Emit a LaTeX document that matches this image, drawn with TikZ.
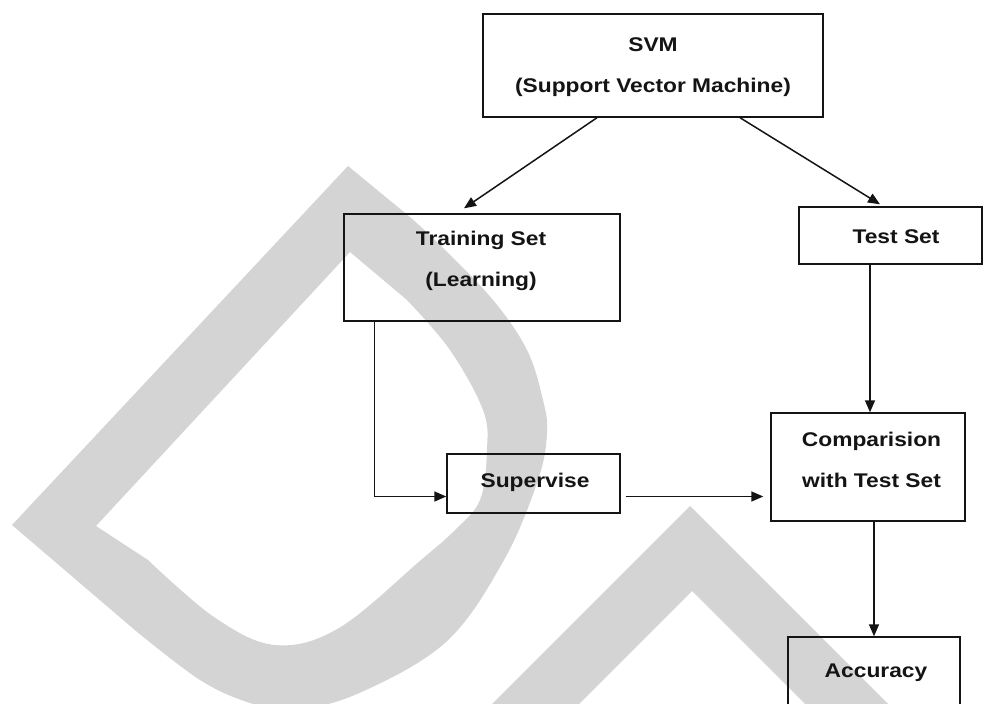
\documentclass[tikz,border=0pt]{standalone}
\usepackage{fontspec}
\setmainfont{Liberation Sans}[FakeStretch=1.15]
\usetikzlibrary{arrows.meta,calc}

\definecolor{wmgray}{RGB}{212,212,212}
\definecolor{ink}{RGB}{20,20,20}

\tikzset{
  box/.style={draw=ink, line width=1.4pt, rectangle, inner sep=0pt},
  lbl/.style={text=ink, align=center,
    font=\fontsize{19.8}{41}\selectfont\bfseries},
  arr/.style={draw=ink, line width=1.5pt,
    -{Triangle[length=12pt,width=10pt]}},
}

\begin{document}
\begin{tikzpicture}[x=1pt,y=-1pt]
\useasboundingbox (0,0) rectangle (983,704);

% light grey background lettering
\fill[wmgray, even odd rule]
  (348,166) -- (12,525) -- (136,631)
  -- plot[smooth, tension=0.6] coordinates {(136,631) (200,680) (250,703) (292,710)
      (357,694) (446,642) (504,560) (538,480) (547,433) (543,400) (527,350)
      (493,300) (440,245) (410,217)}
  -- cycle
  (350,252) -- (96,526) -- (148,560)
  -- plot[smooth, tension=0.6] coordinates {(148,560) (214,617) (275,645) (339,628)
      (421,560) (455,530) (480,500) (487,450) (483,410) (450,350) (407,300)}
  -- cycle;
\fill[wmgray]
  (690,506) -- (476,720) -- (563,720) -- (692,591) -- (821,720) -- (904,720) -- cycle;

% boxes
\node[box, minimum width=340pt, minimum height=103pt] (svm) at (653,65.5) {};
\node[lbl] (svmtxt) at (653,67) {SVM\\(Support Vector Machine)};

\node[box, minimum width=276pt, minimum height=107pt] (train) at (482,267.5) {};
\node[lbl] (traintxt) at (481,261) {Training Set\\(Learning)};

\node[box, minimum width=183pt, minimum height=57pt] (test) at (890.5,235.5) {};
\node[lbl] (testtxt) at (896,237) {Test Set};

\node[box, minimum width=194pt, minimum height=108pt] (cmp) at (868,467) {};
\node[lbl] (cmptxt) at (871.5,460) {Comparision\\with Test Set};

\node[box, minimum width=173pt, minimum height=59pt] (sup) at (533.5,483.5) {};
\node[lbl] (suptxt) at (535,482) {Supervise};

\node[box, minimum width=172pt, minimum height=73pt] (acc) at (874,673.5) {};
\node[lbl] (acctxt) at (876,673) {Accuracy};

% connectors
\draw[arr] ([xshift=-56pt]svm.south) -- ([xshift=-18pt,yshift=5pt]train.north);
\draw[arr] ([xshift=87pt]svm.south) -- ([xshift=-10.5pt,yshift=2pt]test.north);
\draw[arr] ([xshift=-20.5pt]test.south) -- ([xshift=-20.5pt]test.south |- cmp.north);
\draw[arr] (acc.north |- cmp.south) -- (acc.north);
\draw[arr] ([xshift=31pt]train.south west) |- ([yshift=-13pt]sup.west);
\draw[arr, shorten <=5pt, shorten >=7pt] ([yshift=-13pt]sup.east) -- ([yshift=-13pt]sup.east -| cmp.west);
\end{tikzpicture}
\end{document}
